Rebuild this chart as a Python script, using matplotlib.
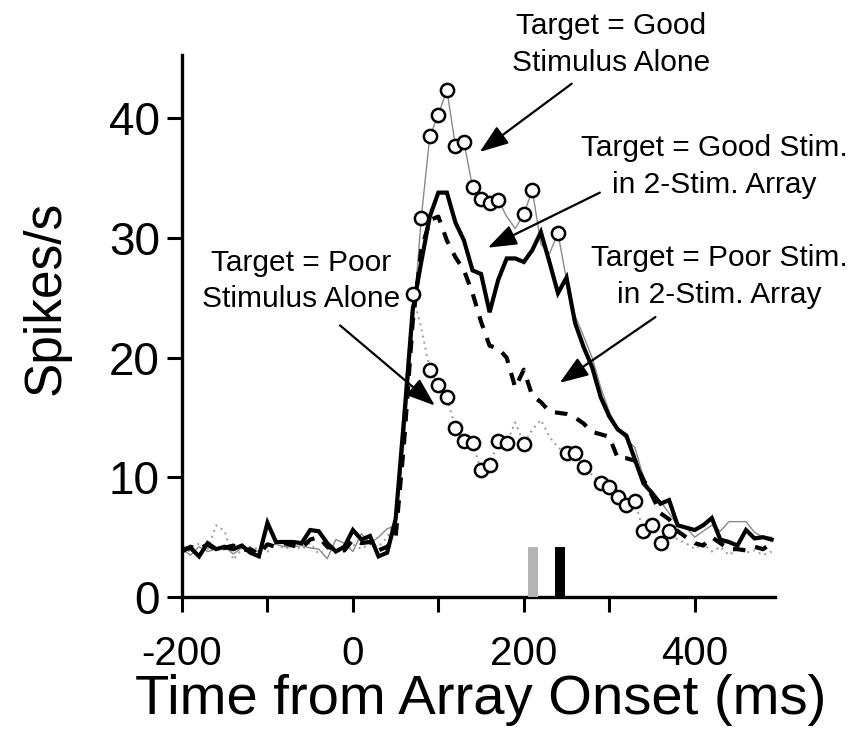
import numpy as np
import matplotlib
matplotlib.use("Agg")
import matplotlib.pyplot as plt

plt.rcParams['font.family'] = ['Liberation Sans', 'DejaVu Sans']
plt.rcParams['axes.unicode_minus'] = False

# time bins (ms)
time_ms = list(range(-200, 500, 10))

# Target = Good Stim. in 2-Stim. Array (thick solid)
good_array = [4.0, 4.1, 3.4, 4.5, 4.0, 4.2, 4.0, 4.3, 3.7, 3.4,
              6.2, 4.6, 4.6, 4.6, 4.5, 5.6, 5.5, 4.5, 3.8, 4.2,
              5.6, 4.8, 5.1, 3.4, 3.7, 6.5, 15.0, 24.0, 28.0, 31.8,
              33.8, 33.8, 31.3, 29.8, 27.3, 27.0, 23.8, 26.5, 28.3, 28.3,
              28.0, 29.0, 30.5, 28.0, 25.4, 26.7, 22.9, 20.9, 19.2, 16.7,
              15.1, 14.0, 13.5, 11.5, 9.5, 8.7, 7.8, 8.1, 6.0, 5.8,
              5.6, 6.0, 6.6, 4.8, 4.6, 4.3, 5.6, 4.9, 5.0, 4.8]

# Target = Poor Stim. in 2-Stim. Array (thick dashed)
poor_array = [3.8, 4.2, 4.0, 4.4, 3.9, 4.1, 4.3, 3.9, 4.0, 3.6,
              4.4, 4.2, 4.5, 4.3, 4.1, 4.8, 5.0, 4.2, 4.0, 3.9,
              4.8, 4.5, 4.6, 3.9, 4.2, 5.0, 13.0, 23.0, 29.0, 31.5,
              31.8, 29.8, 28.4, 27.3, 25.4, 23.0, 21.0, 20.8, 20.0, 17.5,
              19.0, 16.8, 16.3, 15.5, 15.4, 15.3, 15.0, 14.5, 13.8, 13.6,
              13.4, 11.6, 11.6, 11.4, 9.8, 8.5, 7.0, 6.5, 5.5, 5.0,
              4.5, 4.3, 5.0, 4.5, 4.0, 4.0, 3.9, 4.2, 4.0, 4.5]

# Target = Good Stimulus Alone (thin grey line + circles)
good_alone = [4.0, 3.5, 4.2, 3.8, 4.0, 4.2, 3.6, 4.1, 3.9, 3.8,
              4.3, 4.4, 4.2, 4.2, 4.3, 4.1, 4.0, 3.2, 4.8, 4.5,
              3.8, 5.3, 4.5, 5.0, 5.7, 6.0, 13.0, 22.5, 31.7, 38.5,
              40.3, 42.4, 37.7, 38.0, 34.3, 33.3, 32.9, 33.2, 31.8, 30.8,
              32.0, 34.0, 29.5, 28.7, 30.4, 26.5, 23.5, 21.8, 20.0, 17.5,
              15.5, 14.0, 13.2, 12.5, 10.0, 8.5, 8.0, 7.0, 6.0, 5.8,
              5.0, 5.5, 6.0, 5.5, 6.3, 6.3, 6.3, 5.4, 5.0, 5.0]
good_alone_marked = [80, 90, 100, 110, 120, 130, 140, 150, 160, 170, 200, 210, 240]

# Target = Poor Stimulus Alone (dotted grey line + circles)
poor_alone = [4.0, 3.8, 4.5, 4.0, 6.0, 5.5, 3.1, 4.0, 4.2, 4.0,
              3.8, 4.5, 4.0, 4.3, 4.0, 4.5, 3.6, 4.0, 4.2, 3.8,
              4.4, 4.0, 4.5, 4.2, 5.0, 6.5, 16.0, 25.3, 22.5, 19.0,
              17.7, 16.7, 14.1, 13.0, 12.9, 10.6, 11.0, 13.0, 12.9, 14.6,
              12.8, 14.0, 14.8, 13.4, 12.5, 12.0, 12.0, 10.9, 10.2, 9.5,
              9.2, 8.4, 7.7, 8.0, 5.5, 6.0, 4.5, 5.5, 4.8, 4.5,
              4.0, 4.5, 3.8, 4.2, 3.5, 4.0, 3.7, 3.9, 3.5, 3.8]
poor_alone_marked = [70, 90, 100, 110, 120, 130, 140, 150, 160, 170, 180, 200,
                     250, 260, 270, 290, 300, 310, 320, 330, 340, 350, 360, 370]

# latency markers
latency_ms = [211, 242]
latency_height = [4.2, 4.2]
latency_colors = ['#b4b4b4', '#000000']

x_ticks = [-200, -100, 0, 100, 200, 300, 400]
x_ticklabels = ['-200', '', '0', '', '200', '', '400']
y_ticks = [0, 10, 20, 30, 40]
y_ticklabels = ['0', '10', '20', '30', '40']

fig = plt.figure(figsize=(8.56, 7.56), dpi=100)
ax = fig.add_axes([0.2126, 0.2103, 0.6928, 0.7169])

t = np.array(time_ms)
ga = np.array(good_alone)
pa = np.array(poor_alone)

ax.plot(t, ga, color='#8a8a8a', lw=1.0, zorder=2)
ax.plot(t, pa, color='#9a9a9a', lw=1.4, linestyle=(0, (1, 2.2)), zorder=2)
ax.plot(t, good_array, color='black', lw=3.0, zorder=3, solid_joinstyle='miter')
ax.plot(t, poor_array, color='black', lw=3.0, linestyle=(0, (3, 2.5)), zorder=3)

gm = np.isin(t, good_alone_marked)
pm = np.isin(t, poor_alone_marked)
ax.plot(t[gm], ga[gm], linestyle='none', marker='o', ms=9.5, mfc='white',
        mec='black', mew=1.8, zorder=5)
ax.plot(t[pm], pa[pm], linestyle='none', marker='o', ms=9.5, mfc='white',
        mec='black', mew=1.8, zorder=5)

ax.bar(latency_ms, latency_height, width=12, color=latency_colors, zorder=4)

ax.set_xlim(-200, 494)
ax.set_ylim(0, 45.3)
for s in ['top', 'right']:
    ax.spines[s].set_visible(False)
for s in ['left', 'bottom']:
    ax.spines[s].set_linewidth(2.4)
ax.set_xticks(x_ticks)
ax.set_xticklabels(x_ticklabels)
ax.set_yticks(y_ticks)
ax.set_yticklabels(y_ticklabels)
ax.tick_params(axis='both', direction='out', width=2.2, length=11)
ax.tick_params(axis='x', labelsize=29, pad=16)
ax.tick_params(axis='y', labelsize=33, pad=5)

fig.text(0.561, 0.074, 'Time from Array Onset (ms)', fontsize=40.5, ha='center', va='center')
fig.text(0.054, 0.606, 'Spikes/s', fontsize=37, ha='center', va='center', rotation=90)

ann_size = 21.5
ann_ls = 1.40
ax.text(302, 44.0, 'Target = Good\nStimulus Alone', fontsize=ann_size, ha='center',
        va='baseline', linespacing=ann_ls, clip_on=False)
ax.text(423, 33.75, 'Target = Good Stim.\nin 2-Stim. Array', fontsize=ann_size, ha='center',
        va='baseline', linespacing=ann_ls, clip_on=False)
ax.text(429, 24.6, 'Target = Poor Stim.\nin 2-Stim. Array', fontsize=ann_size, ha='center',
        va='baseline', linespacing=ann_ls, clip_on=False)
ax.text(-61, 24.2, 'Target = Poor\nStimulus Alone', fontsize=ann_size, ha='center',
        va='baseline', linespacing=ann_ls, clip_on=False)

arrows = [((256, 42.9), (148.5, 37.2)),
          ((289, 33.8), (158, 29.2)),
          ((354, 23.4), (242, 17.9)),
          ((-15, 22.7), (96, 16.0))]
for tail, head in arrows:
    ax.annotate('', xy=head, xytext=tail, annotation_clip=False,
                arrowprops=dict(arrowstyle='-|>,head_length=1.1,head_width=0.4',
                                color='black', lw=1.6, shrinkA=0, shrinkB=0,
                                mutation_scale=16), zorder=6)

fig.savefig('out.png', dpi=100)
